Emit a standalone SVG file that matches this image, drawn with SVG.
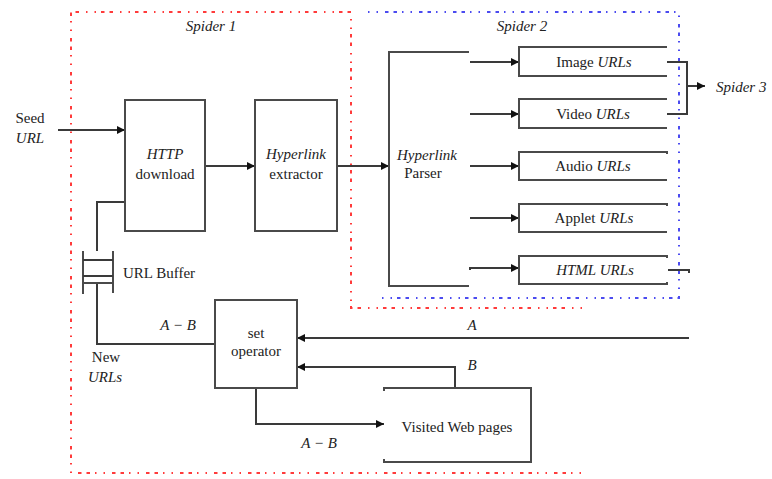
<svg xmlns="http://www.w3.org/2000/svg" width="772" height="479" viewBox="0 0 772 479">
  <style>
    .frame-red { fill: none; stroke: #ff3b3b; stroke-width: 2; stroke-dasharray: 1.5 7 1.5 7 3.5 5 3.5 5; }
    .frame-blue { fill: none; stroke: #4b4bf0; stroke-width: 2; stroke-dasharray: 1.5 7 1.5 7 3.5 5 3.5 5; }
    .box { fill: none; stroke: #4a4a4a; stroke-width: 2; }
    .wire { fill: none; stroke: #3a3a3a; stroke-width: 2; }
    .arrow { marker-end: url(#head); }
    text { font-family: "Liberation Serif", "Times New Roman", serif; font-size: 15px; fill: #222; text-anchor: middle; }
    .it { font-style: italic; }
    .start { text-anchor: start; }
  </style>
  <defs>
    <marker id="head" viewBox="0 0 8 8" refX="8" refY="4" markerWidth="8" markerHeight="8" markerUnits="userSpaceOnUse" orient="auto">
      <path d="M0,0 L8,4 L0,8 z" fill="#111"/>
    </marker>
  </defs>

  <!-- process boundaries -->
  <g id="spider1-frame">
    <polyline class="frame-red" points="582,308 351,308 351,12 71,12 71,473 582,473"/>
    <text class="it" x="211" y="31">Spider 1</text>
  </g>
  <g id="spider2-frame">
    <polyline class="frame-blue" points="368,12 679,12 679,298 382,298"/>
    <text class="it" x="522" y="31">Spider 2</text>
  </g>

  <!-- connectors -->
  <g id="connectors">
    <line class="wire arrow" x1="58" y1="130" x2="125" y2="130"/>
    <line class="wire arrow" x1="205" y1="166" x2="255" y2="166"/>
    <line class="wire arrow" x1="337" y1="166" x2="389" y2="166"/>
    <line class="wire arrow" x1="470" y1="62" x2="519" y2="62"/>
    <line class="wire arrow" x1="470" y1="114" x2="519" y2="114"/>
    <line class="wire arrow" x1="470" y1="166" x2="519" y2="166"/>
    <line class="wire arrow" x1="470" y1="218" x2="519" y2="218"/>
    <polyline class="wire arrow" points="470,270 470,268 519,268"/>
    <polyline class="wire" points="667,62 687,62 687,114 667,114"/>
    <line class="wire arrow" x1="687" y1="86" x2="705" y2="86"/>
    <polyline class="wire" points="668,270 689,270 689,273"/>
    <polyline class="wire" points="125,202 97,202 97,251"/>
    <polyline class="wire" points="97,283 97,344 215,344"/>
    <line class="wire arrow" x1="689" y1="338" x2="297" y2="338"/>
    <polyline class="wire arrow" points="455,388 455,367 297,367"/>
    <polyline class="wire arrow" points="256,388 256,424 384,424"/>
    <text class="it" x="178" y="330">A − B</text>
    <text class="it" x="472" y="330">A</text>
    <text class="it" x="472" y="370">B</text>
    <text class="it" x="319" y="448">A − B</text>
    <text x="106" y="362">New</text>
    <text class="it" x="105" y="382">URLs</text>
  </g>

  <g id="seed-url">
    <text x="30" y="123">Seed</text>
    <text class="it" x="30" y="143">URL</text>
  </g>

  <g id="http-download">
    <rect class="box" x="125" y="100" width="80" height="131"/>
    <text class="it" x="165" y="159">HTTP</text>
    <text x="165" y="179">download</text>
  </g>

  <g id="hyperlink-extractor">
    <rect class="box" x="255" y="100" width="82" height="131"/>
    <text class="it" x="296" y="159">Hyperlink</text>
    <text x="296" y="179">extractor</text>
  </g>

  <g id="hyperlink-parser">
    <polyline class="box" points="469,52 389,52 389,286 469,286"/>
    <text class="it" x="427" y="160">Hyperlink</text>
    <text x="423" y="178">Parser</text>
  </g>

  <g id="image-urls">
    <polyline class="box" points="667,47 519,47 519,76 667,76"/>
    <text x="594" y="67">Image <tspan class="it">URLs</tspan></text>
  </g>
  <g id="video-urls">
    <polyline class="box" points="667,99 519,99 519,128 667,128"/>
    <text x="593" y="119">Video <tspan class="it">URLs</tspan></text>
  </g>
  <g id="audio-urls">
    <polyline class="box" points="667,154 667,152 519,152 519,180 667,180"/>
    <text x="593" y="171">Audio <tspan class="it">URLs</tspan></text>
  </g>
  <g id="applet-urls">
    <polyline class="box" points="667,206 667,204 519,204 519,232 667,232"/>
    <text x="594" y="223">Applet <tspan class="it">URLs</tspan></text>
  </g>
  <g id="html-urls">
    <polyline class="box" points="667,258 667,256 519,256 519,284 667,284 667,282"/>
    <text class="it" x="595" y="275">HTML URLs</text>
  </g>

  <g id="spider3">
    <text class="it start" x="716" y="92">Spider 3</text>
  </g>

  <g id="url-buffer">
    <line class="box" x1="83" y1="251" x2="83" y2="294"/>
    <line class="box" x1="113" y1="251" x2="113" y2="293"/>
    <line class="wire" x1="83" y1="260" x2="113" y2="260"/>
    <line class="wire" x1="83" y1="276" x2="113" y2="276"/>
    <line class="box" x1="83" y1="283" x2="113" y2="283" stroke-width="1.5"/>
    <text class="start" x="123" y="278">URL Buffer</text>
  </g>

  <g id="set-operator">
    <rect class="box" x="215" y="300" width="82" height="88"/>
    <text x="256" y="338">set</text>
    <text x="256" y="356">operator</text>
  </g>

  <g id="visited-pages">
    <polyline class="box" points="384,391 384,388 531,388 531,462 384,462 384,459"/>
    <text x="457" y="432">Visited Web pages</text>
  </g>
</svg>
